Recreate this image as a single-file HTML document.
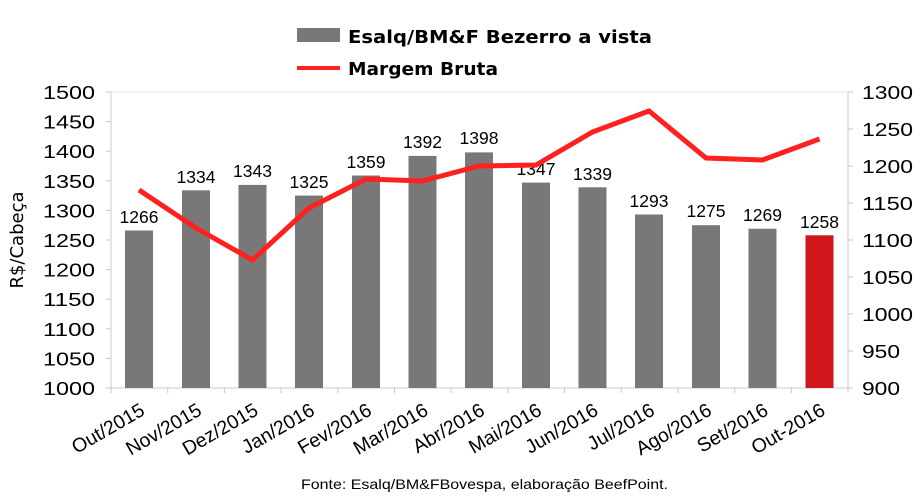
<!DOCTYPE html><html><head><style>body{margin:0;background:#fff}svg{display:block}text{font-family:"Liberation Sans",sans-serif}.v{font-family:"DejaVu Sans",sans-serif}</style></head><body>
<svg width="914" height="498" xmlns="http://www.w3.org/2000/svg">
<line x1="111" y1="92" x2="848" y2="92" stroke="#e6e6e6"/>
<line x1="111" y1="92" x2="111" y2="388" stroke="#c8c8c8"/>
<line x1="848" y1="92" x2="848" y2="393" stroke="#c8c8c8"/>
<line x1="106" y1="388" x2="848" y2="388" stroke="#c8c8c8"/>
<g stroke="#c8c8c8">
<line x1="106" y1="92" x2="111" y2="92"/><line x1="106" y1="121.6" x2="111" y2="121.6"/><line x1="106" y1="151.2" x2="111" y2="151.2"/><line x1="106" y1="180.8" x2="111" y2="180.8"/><line x1="106" y1="210.4" x2="111" y2="210.4"/><line x1="106" y1="240" x2="111" y2="240"/><line x1="106" y1="269.6" x2="111" y2="269.6"/><line x1="106" y1="299.2" x2="111" y2="299.2"/><line x1="106" y1="328.8" x2="111" y2="328.8"/><line x1="106" y1="358.4" x2="111" y2="358.4"/>
<line x1="848" y1="92" x2="853" y2="92"/><line x1="848" y1="129" x2="853" y2="129"/><line x1="848" y1="166" x2="853" y2="166"/><line x1="848" y1="203" x2="853" y2="203"/><line x1="848" y1="240" x2="853" y2="240"/><line x1="848" y1="277" x2="853" y2="277"/><line x1="848" y1="314" x2="853" y2="314"/><line x1="848" y1="351" x2="853" y2="351"/><line x1="848" y1="388" x2="853" y2="388"/>
<line x1="111" y1="388" x2="111" y2="393"/><line x1="167.7" y1="388" x2="167.7" y2="393"/><line x1="224.4" y1="388" x2="224.4" y2="393"/><line x1="281" y1="388" x2="281" y2="393"/><line x1="337.8" y1="388" x2="337.8" y2="393"/><line x1="394.5" y1="388" x2="394.5" y2="393"/><line x1="451" y1="388" x2="451" y2="393"/><line x1="508" y1="388" x2="508" y2="393"/><line x1="564.6" y1="388" x2="564.6" y2="393"/><line x1="621.3" y1="388" x2="621.3" y2="393"/><line x1="678" y1="388" x2="678" y2="393"/><line x1="734.7" y1="388" x2="734.7" y2="393"/><line x1="791.3" y1="388" x2="791.3" y2="393"/>
</g>
<g class="v" font-size="18.5" fill="#000">
<text x="43" y="99" textLength="52" lengthAdjust="spacingAndGlyphs">1500</text><text x="43" y="128.6" textLength="52" lengthAdjust="spacingAndGlyphs">1450</text><text x="43" y="158.2" textLength="52" lengthAdjust="spacingAndGlyphs">1400</text><text x="43" y="187.8" textLength="52" lengthAdjust="spacingAndGlyphs">1350</text><text x="43" y="217.4" textLength="52" lengthAdjust="spacingAndGlyphs">1300</text><text x="43" y="247" textLength="52" lengthAdjust="spacingAndGlyphs">1250</text><text x="43" y="276.6" textLength="52" lengthAdjust="spacingAndGlyphs">1200</text><text x="43" y="306.2" textLength="52" lengthAdjust="spacingAndGlyphs">1150</text><text x="43" y="335.8" textLength="52" lengthAdjust="spacingAndGlyphs">1100</text><text x="43" y="365.4" textLength="52" lengthAdjust="spacingAndGlyphs">1050</text><text x="43" y="395" textLength="52" lengthAdjust="spacingAndGlyphs">1000</text>
</g>
<g class="v" font-size="18.5" fill="#000">
<text x="862" y="99" textLength="51" lengthAdjust="spacingAndGlyphs">1300</text><text x="862" y="136" textLength="51" lengthAdjust="spacingAndGlyphs">1250</text><text x="862" y="173" textLength="51" lengthAdjust="spacingAndGlyphs">1200</text><text x="862" y="210" textLength="51" lengthAdjust="spacingAndGlyphs">1150</text><text x="862" y="247" textLength="51" lengthAdjust="spacingAndGlyphs">1100</text><text x="862" y="284" textLength="51" lengthAdjust="spacingAndGlyphs">1050</text><text x="862" y="321" textLength="51" lengthAdjust="spacingAndGlyphs">1000</text><text x="862" y="358" textLength="38" lengthAdjust="spacingAndGlyphs">950</text><text x="862" y="395" textLength="38" lengthAdjust="spacingAndGlyphs">900</text>
</g>
<text class="v" transform="translate(23,240) rotate(-90)" font-size="18" text-anchor="middle">R$/Cabeça</text>
<g fill="#787878">
<rect x="125" y="230.5" width="28" height="157.5"/>
<rect x="182" y="190.3" width="28" height="197.7"/>
<rect x="238.5" y="184.9" width="28" height="203.1"/>
<rect x="295" y="195.6" width="28" height="192.4"/>
<rect x="352" y="175.5" width="28" height="212.5"/>
<rect x="408.5" y="155.9" width="28" height="232.1"/>
<rect x="465" y="152.4" width="28" height="235.6"/>
<rect x="522" y="182.6" width="28" height="205.4"/>
<rect x="578.5" y="187.3" width="28" height="200.7"/>
<rect x="635" y="214.5" width="28" height="173.5"/>
<rect x="692" y="225.2" width="28" height="162.8"/>
<rect x="748.5" y="228.7" width="28" height="159.3"/>
</g>
<rect x="805.5" y="235.3" width="28" height="152.7" fill="#d0161b"/>
<g font-size="17.5" text-anchor="middle">
<text x="139" y="223">1266</text><text x="196" y="183">1334</text><text x="252.5" y="177">1343</text><text x="309" y="188">1325</text><text x="366" y="168">1359</text><text x="422.5" y="148">1392</text><text x="479" y="144">1398</text><text x="536" y="175">1347</text><text x="592.5" y="180">1339</text><text x="649" y="207">1293</text><text x="706" y="217">1275</text><text x="762.5" y="221">1269</text><text x="819.5" y="228">1258</text>
</g>
<polyline fill="none" stroke="#ff2020" stroke-width="5" points="139,190 196,228 252.5,260 309,208 366,179 422.5,181 479,166 536,165 592.5,132 649,111 706,158 762.5,160 819.5,139"/>
<g class="v" font-size="19.5" text-anchor="end">
<text transform="translate(146,414) rotate(-30)">Out/2015</text>
<text transform="translate(203,414) rotate(-30)">Nov/2015</text>
<text transform="translate(259.5,414) rotate(-30)">Dez/2015</text>
<text transform="translate(316,414) rotate(-30)">Jan/2016</text>
<text transform="translate(373,414) rotate(-30)">Fev/2016</text>
<text transform="translate(429.5,414) rotate(-30)">Mar/2016</text>
<text transform="translate(486,414) rotate(-30)">Abr/2016</text>
<text transform="translate(543,414) rotate(-30)">Mai/2016</text>
<text transform="translate(599.5,414) rotate(-30)">Jun/2016</text>
<text transform="translate(656,414) rotate(-30)">Jul/2016</text>
<text transform="translate(713,414) rotate(-30)">Ago/2016</text>
<text transform="translate(769.5,414) rotate(-30)">Set/2016</text>
<text transform="translate(826.5,414) rotate(-30)">Out-2016</text>
</g>
<rect x="297" y="28" width="43" height="14" fill="#787878"/>
<text class="v" x="348" y="43" font-size="18" font-weight="bold" textLength="304" lengthAdjust="spacingAndGlyphs">Esalq/BM&amp;F Bezerro a vista</text>
<line x1="297" y1="68" x2="340" y2="68" stroke="#ff2020" stroke-width="4"/>
<text class="v" x="348" y="75" font-size="18" font-weight="bold" textLength="150" lengthAdjust="spacingAndGlyphs">Margem Bruta</text>
<text x="301" y="489" font-size="14" textLength="367" lengthAdjust="spacingAndGlyphs">Fonte: Esalq/BM&amp;FBovespa, elaboração BeefPoint.</text>
</svg></body></html>
